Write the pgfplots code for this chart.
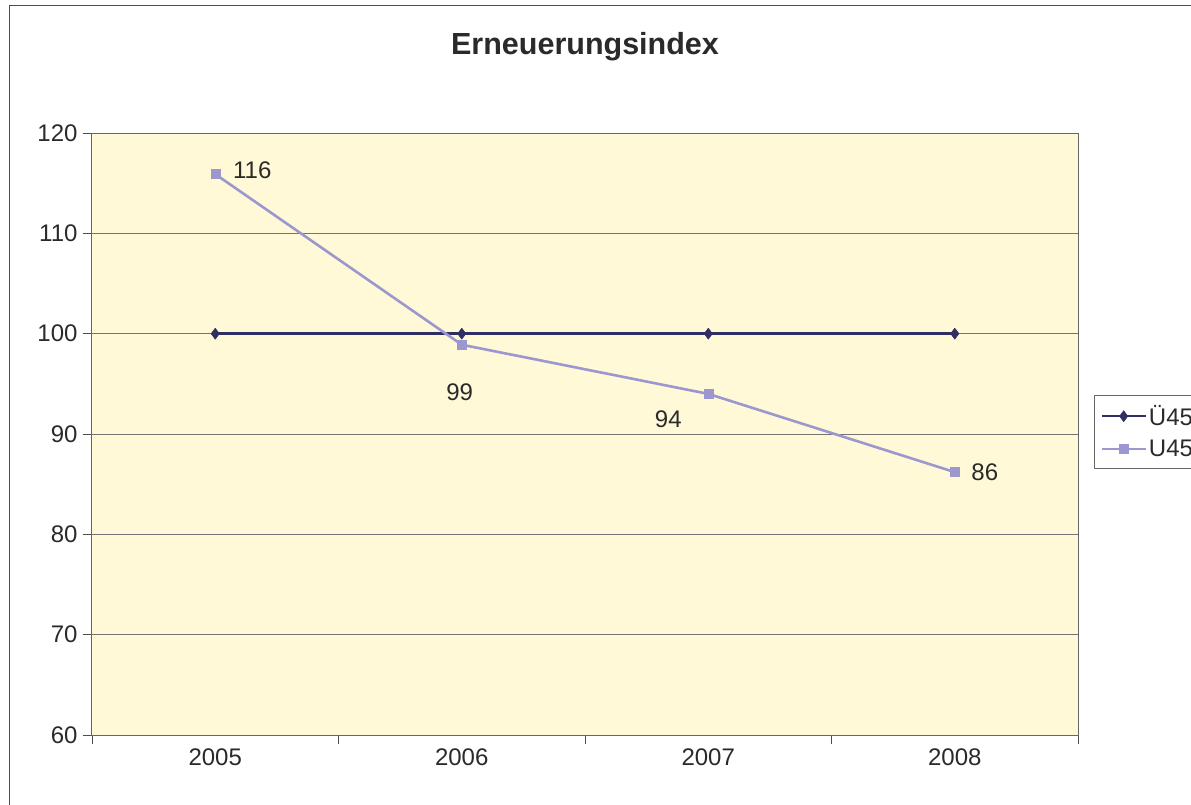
\documentclass[border=0pt]{standalone}
\usepackage{fontspec}
\setmainfont{Liberation Sans}
\usepackage{pgfplots}
\usepackage{pgfplotstable}
\pgfplotsset{compat=1.18}
\definecolor{navyline}{HTML}{2F2F63}
\definecolor{lilac}{HTML}{9C97CE}
\definecolor{plotbg}{HTML}{FFF9D8}
\definecolor{txt}{HTML}{2A2A2A}
\pgfplotstableread{
x y
0 100
1 100
2 100
3 100
}\uefuenf
\pgfplotstableread{
x y lab dx dy
0 115.9 116 37 4
1 98.9 99 -2 -48
2 94.0 94 -40 -25
3 86.2 86 30 0
}\ufuenf
\begin{document}
\begin{tikzpicture}
\clip (-92pt,-69pt) rectangle (1099pt,735pt);
\fill[white] (-92pt,-69pt) rectangle (1099pt,735pt);
\draw[black!70, line width=1pt] (-82pt,729pt) rectangle (1130pt,-100pt);
\begin{axis}[
  at={(0pt,0pt)}, anchor=south west,
  scale only axis, width=986pt, height=602pt,
  xmin=-0.5, xmax=3.5, ymin=60, ymax=120,
  ytick={60,70,...,120},
  xtick={-0.5,0.5,1.5,2.5,3.5}, xticklabels={},
  extra x ticks={0,1,2,3},
  extra x tick labels={2005,2006,2007,2008},
  extra x tick style={major tick length=0pt, grid=none},
  xtick pos=bottom, ytick pos=left,
  tick align=outside, major tick length=9pt,
  tick style={black!70, line width=0.8pt},
  ymajorgrids, major grid style={black!55, line width=0.8pt},
  axis line style={black!60, line width=1pt},
  axis background/.style={fill=plotbg},
  /pgf/number format/assume math mode=true,
  tick label style={font=\fontsize{24}{28}\selectfont, text=txt},
  yticklabel style={xshift=-2pt},
  xticklabel style={yshift=-10pt},
  title={\bfseries Erneuerungsindex},
  title style={font=\fontsize{30.5}{36}\selectfont, text=txt, at={(0.5,1)}, anchor=center, yshift=80pt},
  legend style={at={(1.0162,0.5648)}, anchor=north west, draw=black!60, line width=0.8pt,
    font=\fontsize{24}{28}\selectfont, text=txt, row sep=9pt, inner xsep=6pt, inner ysep=8pt,
    legend cell align=left},
  legend image code/.code={\draw[mark repeat=2,mark phase=2] plot coordinates {(0pt,0pt)(22pt,0pt)(44pt,0pt)};},
  clip=false,
]
\addplot[navyline, line width=2.6pt, mark=diamond*, mark size=5.5pt, mark options={solid, line width=0.5pt}] table[x=x,y=y]{\uefuenf};
\addlegendentry{Ü45}
\addplot[lilac, line width=2.6pt, mark=square*, mark size=4.5pt, mark options={solid, line width=0.5pt},
  nodes near coords, point meta=explicit symbolic,
  visualization depends on={\thisrow{dx} \as \dx},
  visualization depends on={\thisrow{dy} \as \dy},
  nodes near coords style={anchor=center, xshift=\dx pt, yshift=\dy pt, text=txt, font=\fontsize{24}{28}\selectfont}
] table[x=x,y=y,meta=lab]{\ufuenf};
\addlegendentry{U45}
\end{axis}
\end{tikzpicture}
\end{document}
